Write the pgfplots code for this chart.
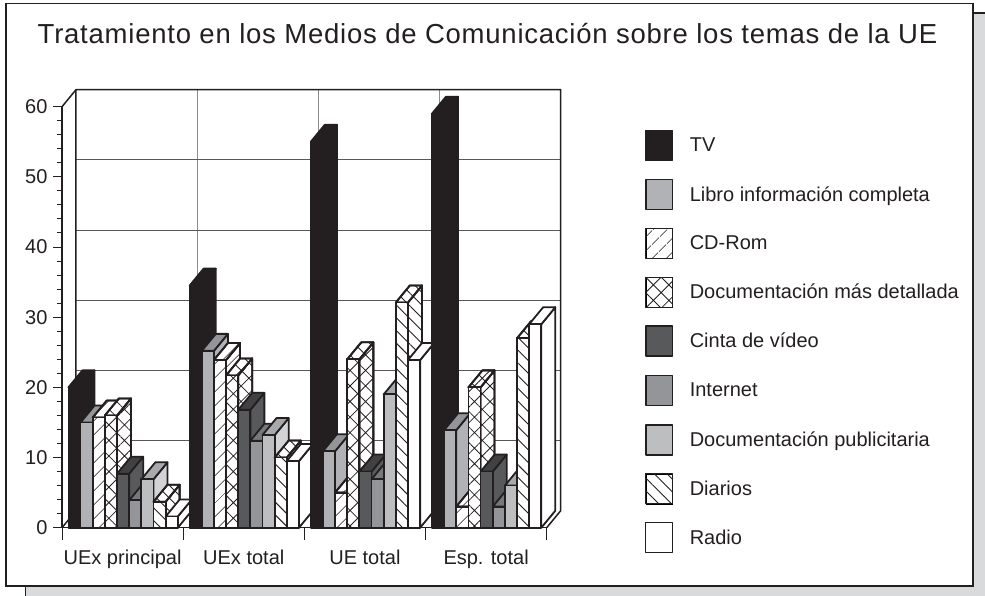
\documentclass[border=0pt]{standalone}
\usepackage{pgfplots}
\pgfplotsset{compat=1.18}
\usepackage{fontspec}
\setmainfont{Liberation Sans}
\newfontfamily\titlefont[LetterSpace=2.8]{Liberation Sans}
\usetikzlibrary{patterns.meta}
\definecolor{ink}{HTML}{231F20}
\definecolor{shadowgrey}{HTML}{D9DADB}
\tikzset{
 edge/.style={draw=ink,line width=1.8pt,line join=round},
 hatchA/.style={preaction={fill=white},pattern={Lines[angle=45,distance=10.5pt,line width=.8pt]},pattern color=ink},
 hatchB/.style={preaction={fill=white},pattern={Hatch[angle=45,distance=11pt,line width=.8pt]},pattern color=ink},
 hatchC/.style={preaction={fill=white},pattern={Lines[angle=-45,distance=9pt,line width=.9pt]},pattern color=ink},
 s0f/.style={edge,fill=ink}, s0s/.style={edge,fill=ink}, s0t/.style={edge,fill=ink},
 s1f/.style={edge,fill={rgb,255:red,176;green,178;blue,181}}, s1s/.style={s1f}, s1t/.style={edge,fill={rgb,255:red,147;green,149;blue,152}},
 s2f/.style={edge,hatchA}, s2s/.style={edge,hatchA}, s2t/.style={edge,hatchA},
 s3f/.style={edge,hatchB}, s3s/.style={edge,hatchB}, s3t/.style={edge,hatchB},
 s4f/.style={edge,fill={rgb,255:red,88;green,89;blue,91}}, s4s/.style={s4f}, s4t/.style={edge,fill={rgb,255:red,65;green,64;blue,66}},
 s5f/.style={edge,fill={rgb,255:red,147;green,149;blue,152}}, s5s/.style={s5f}, s5t/.style={edge,fill={rgb,255:red,119;green,120;blue,123}},
 s6f/.style={edge,fill={rgb,255:red,188;green,190;blue,192}}, s6s/.style={edge,fill={rgb,255:red,209;green,211;blue,212}}, s6t/.style={edge,fill={rgb,255:red,167;green,169;blue,172}},
 s7f/.style={edge,hatchC}, s7s/.style={edge,hatchC}, s7t/.style={edge,hatchC},
 s8f/.style={edge,fill=white}, s8s/.style={s8f}, s8t/.style={s8f},
}
\newcommand\dpx{0.1155}
\newcommand\dpy{2.42}
% #1 category position, #2 series number, #3 value
\newcommand\cube[3]{%
 \pgfmathsetmacro\xa{#1+0.053+#2*0.1003}%
 \pgfmathsetmacro\xb{\xa+0.1003}%
 \pgfmathsetmacro\xc{\xb+\dpx}%
 \pgfmathsetmacro\xd{\xa+\dpx}%
 \pgfmathsetmacro\yt{#3+\dpy}%
 \edef\tmp{%
 \noexpand\addplot[forget plot,mark=none,s#2s] coordinates {(\xb,0)(\xc,\dpy)(\xc,\yt)(\xb,#3)} -- cycle;
 \noexpand\addplot[forget plot,mark=none,s#2t] coordinates {(\xa,#3)(\xd,\yt)(\xc,\yt)(\xb,#3)} -- cycle;
 \noexpand\addplot[forget plot,mark=none,s#2f] coordinates {(\xa,0)(\xa,#3)(\xb,#3)(\xb,0)} -- cycle;
 }\tmp}
\newcommand\swatch[1]{\addlegendimage{legend image code/.code={\path[#1] (0pt,-15pt) rectangle (26.5pt,15pt);}}}
\begin{document}
\begin{tikzpicture}[x=1pt,y=1pt]
\path[use as bounding box] (0,0) rectangle (985,596);
\fill[shadowgrey] (25.5,0) rectangle (985,583);
\draw[ink,line width=1.2pt] (25.5,0) -- (25.5,12);
\draw[ink,line width=1.2pt] (973,583) -- (985,583);
\draw[ink,line width=1.3pt,fill=white] (6,10) rectangle (973,592.5);
\begin{axis}[
 at={(62pt,68.3pt)},anchor=south west,scale only axis,
 width=484.7pt,height=421pt,
 xmin=0,xmax=4,ymin=0,ymax=60,
 axis x line=bottom,axis y line=left,
 axis line style={-,draw=ink,line width=1.5pt},
 clip=false,
 xtick={0,1,2,3,4},
 xticklabels={UEx principal,UEx total,UE total,Esp. total},
 x tick label as interval,
 xtick style={draw=none},
 ytick={0,10,20,30,40,50,60},
 minor y tick num=4,
 major tick length=9pt,minor tick length=5pt,
 tick align=outside,
 ytick style={draw=ink,line width=1pt},
 minor tick style={draw=ink,line width=1pt},
 tick label style={font=\fontsize{20}{23}\selectfont,text=ink},
 /pgf/number format/assume math mode=true,
 yticklabel style={xshift=-2pt},
 xticklabel style={yshift=-9.5pt},
 legend style={at={(1.2028,0.9445)},anchor=north west,draw=none,fill=none,inner sep=0pt,outer sep=0pt,
   row sep=17.6pt,font=\fontsize{20}{24}\selectfont,text=ink,
   nodes={inner sep=0pt},
   /tikz/every odd column/.append style={column sep=16.5pt}},
 legend cell align=left,
]
% grid on the back wall
\addplot[forget plot,mark=none,draw=gray!90,line width=1pt] coordinates {(1.1155,2.42)(1.1155,62.42)};
\addplot[forget plot,mark=none,draw=gray!90,line width=1pt] coordinates {(2.1155,2.42)(2.1155,62.42)};
\addplot[forget plot,mark=none,draw=gray!90,line width=1pt] coordinates {(3.1155,2.42)(3.1155,62.42)};
\addplot[forget plot,mark=none,draw=ink!75,line width=1pt] coordinates {(0.1155,12.42)(4.1155,12.42)};
\addplot[forget plot,mark=none,draw=ink!75,line width=1pt] coordinates {(0.1155,22.42)(4.1155,22.42)};
\addplot[forget plot,mark=none,draw=ink!75,line width=1pt] coordinates {(0.1155,32.42)(4.1155,32.42)};
\addplot[forget plot,mark=none,draw=ink!75,line width=1pt] coordinates {(0.1155,42.42)(4.1155,42.42)};
\addplot[forget plot,mark=none,draw=ink!75,line width=1pt] coordinates {(0.1155,52.42)(4.1155,52.42)};
% walls and floor
\addplot[forget plot,mark=none,draw=ink,line width=1.5pt] coordinates {(0,60)(0.1155,62.42)(4.1155,62.42)(4.1155,2.42)(4,0)};
\addplot[forget plot,mark=none,draw=ink,line width=1.5pt] coordinates {(0,0)(0.1155,2.42)(0.1155,62.42)};
% x ticks
\addplot[forget plot,mark=none,draw=ink,line width=1pt] coordinates {(0,0)(0,-1.7)};
\addplot[forget plot,mark=none,draw=ink,line width=1pt] coordinates {(1,0)(1,-1.7)};
\addplot[forget plot,mark=none,draw=ink,line width=1pt] coordinates {(2,0)(2,-1.7)};
\addplot[forget plot,mark=none,draw=ink,line width=1pt] coordinates {(3,0)(3,-1.7)};
\addplot[forget plot,mark=none,draw=ink,line width=1pt] coordinates {(4,0)(4,-1.7)};
% UEx principal
\cube{0}{0}{20}\cube{0}{1}{15}\cube{0}{2}{15.7}\cube{0}{3}{16}\cube{0}{4}{7.7}\cube{0}{5}{3.9}\cube{0}{6}{6.9}\cube{0}{7}{3.7}\cube{0}{8}{1.6}
% UEx total
\cube{1}{0}{34.5}\cube{1}{1}{25.2}\cube{1}{2}{23.9}\cube{1}{3}{21.7}\cube{1}{4}{16.8}\cube{1}{5}{12.4}\cube{1}{6}{13.2}\cube{1}{7}{10}\cube{1}{8}{9.5}
% UE total
\cube{2}{0}{55}\cube{2}{1}{10.9}\cube{2}{2}{5}\cube{2}{3}{24}\cube{2}{4}{8}\cube{2}{5}{6.9}\cube{2}{6}{19}\cube{2}{7}{32.1}\cube{2}{8}{23.9}
% Esp. total
\cube{3}{0}{59}\cube{3}{1}{13.9}\cube{3}{2}{3}\cube{3}{3}{20}\cube{3}{4}{8}\cube{3}{5}{3}\cube{3}{6}{6}\cube{3}{7}{27}\cube{3}{8}{29}
\swatch{s0f,line width=1pt}\swatch{s1f}\swatch{s2f,line width=1pt}\swatch{s3f,line width=1pt}\swatch{s4f}\swatch{s5f}\swatch{s6f}\swatch{s7f,line width=1pt}\swatch{s8f,line width=1pt}
\legend{TV,Libro información completa,CD-Rom,Documentación más detallada,Cinta de vídeo,Internet,Documentación publicitaria,Diarios,Radio}
\end{axis}
\node[text=ink,font=\titlefont\fontsize{27.5}{32}\selectfont,anchor=center] at (487.5,562) {Tratamiento en los Medios de Comunicación sobre los temas de la UE};
\end{tikzpicture}
\end{document}
